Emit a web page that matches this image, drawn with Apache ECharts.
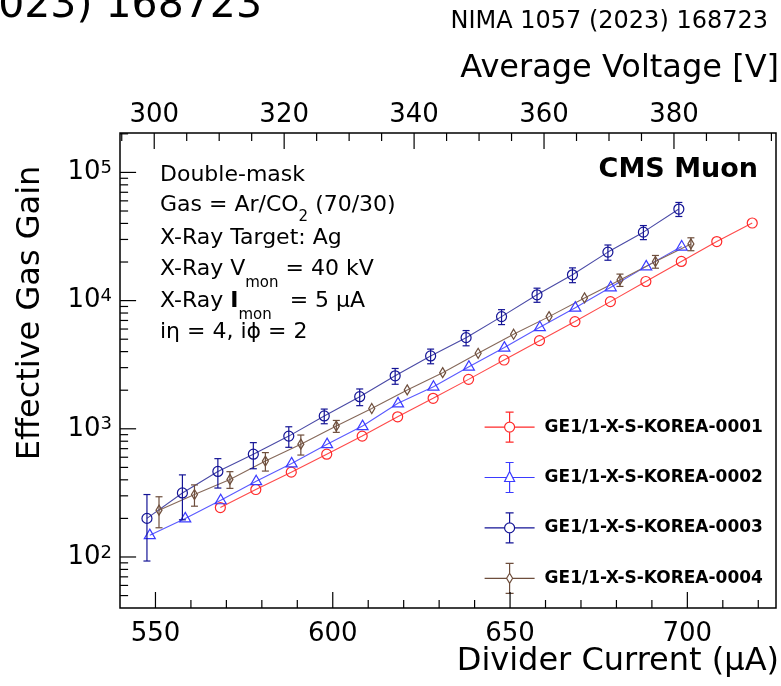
<!DOCTYPE html>
<html>
<head>
<meta charset="utf-8">
<title>Effective gas gain vs divider current</title>
<script src="https://cdn.jsdelivr.net/npm/echarts@6/dist/echarts.min.js"></script>
<style>
  html, body { margin: 0; padding: 0; background: #fff; }
  #chart { width: 781px; height: 686px; }
</style>
</head>
<body>
<div id="chart"></div>
<script>
// chamber names (legend)
const names = ["GE1/1-X-S-KOREA-0001", "GE1/1-X-S-KOREA-0002", "GE1/1-X-S-KOREA-0003", "GE1/1-X-S-KOREA-0004"];

// divider current (uA) per chamber
const current1 = [568.3, 578.3, 588.3, 598.3, 608.3, 618.3, 628.3, 638.3, 648.3, 658.3, 668.3, 678.3, 688.3, 698.3, 708.3, 718.3];
const current2 = [548.4, 558.4, 568.4, 578.4, 588.4, 598.4, 608.4, 618.4, 628.4, 638.4, 648.4, 658.4, 668.4, 678.4, 688.4, 698.4];
const current3 = [547.6, 557.6, 567.6, 577.6, 587.6, 597.6, 607.6, 617.6, 627.6, 637.6, 647.6, 657.6, 667.6, 677.6, 687.6, 697.6];
const current4 = [551, 561, 571, 581, 591, 601, 611, 621, 631, 641, 651, 661, 671, 681, 691, 701];

// effective gas gain
const gain1 = [243, 336, 459, 634, 877, 1240, 1730, 2430, 3440, 4870, 6860, 9820, 14100, 20200, 28900, 40300];
const gain2 = [148, 200, 277, 390, 537, 759, 1050, 1580, 2130, 3050, 4300, 6200, 8810, 12700, 18500, 26400];
const gain3 = [200, 316, 465, 634, 877, 1260, 1780, 2590, 3700, 5140, 7500, 11100, 15900, 23900, 34200, 51800];
const gain4 = [232, 307, 403, 560, 759, 1050, 1440, 2010, 2740, 3880, 5470, 7500, 10500, 14500, 20200, 27700];

// gain uncertainties
const err1 = [9, 12, 16, 22, 30, 42, 60, 85, 120, 170, 240, 340, 490, 700, 1000, 1400];
const err2 = [6, 8, 11, 15, 20, 28, 40, 58, 80, 110, 160, 230, 320, 460, 670, 950];
const err3 = [107, 121, 120, 146, 160, 165, 265, 365, 485, 700, 1000, 1400, 2100, 3250, 4300, 6500];
const err4 = [63, 58, 60, 92, 135, 112, 130, 180, 230, 330, 500, 670, 940, 1600, 2300, 3200];

// axis ticks
const currentMajor = [550, 600, 650, 700];
const currentMinor = [560, 570, 580, 590, 610, 620, 630, 640, 660, 670, 680, 690, 710, 720];
const voltMajor = [300, 320, 340, 360, 380];
const voltMinor = [295, 305, 310, 315, 325, 330, 335, 345, 350, 355, 365, 370, 375, 385, 390, 395];
const gainMajor = [100, 1000, 10000, 100000];
const gainMinor = [50, 60, 70, 80, 90, 200, 300, 400, 500, 600, 700, 800, 900,
  2000, 3000, 4000, 5000, 6000, 7000, 8000, 9000,
  20000, 30000, 40000, 50000, 60000, 70000, 80000, 90000, 200000];

const currentRange = [540, 725];
const voltPerCurrent = 0.5458; // top axis = divider current x this factor
const gainRange = [40, 203000];

const colors = ["#ff2a2a", "#3b3bff", "#141496", "#6e4e3c"];
const lineColors = ["#ff4a4a", "#5a5aff", "#4a4aa6", "#86695a"];
const markers = ["circle", "triangle", "circle", "diamond"];
const FONT = "'DejaVu Sans', sans-serif";

function markerShape(kind, c, color) {
  const style = { fill: "none", stroke: color, lineWidth: 1.2 };
  if (kind === "circle") {
    return { type: "circle", shape: { cx: c[0], cy: c[1], r: 5 }, style };
  }
  if (kind === "triangle") {
    return { type: "polygon", shape: { points: [[c[0], c[1] - 6], [c[0] + 5.5, c[1] + 3.5], [c[0] - 5.5, c[1] + 3.5]] }, style };
  }
  return { type: "polygon", shape: { points: [[c[0], c[1] - 5], [c[0] + 3, c[1]], [c[0], c[1] + 5], [c[0] - 3, c[1]]] }, style };
}

function lineSeries(i, xs, ys) {
  return {
    type: "line",
    name: names[i] + " line",
    data: xs.map((x, k) => [x, ys[k]]),
    showSymbol: false,
    symbol: "none",
    silent: true,
    z: 2,
    lineStyle: { color: lineColors[i], width: 1.1 }
  };
}

function pointSeries(i, xs, ys, es) {
  const color = colors[i];
  return {
    type: "custom",
    name: names[i],
    z: 3,
    clip: true,
    data: xs.map((x, k) => [x, ys[k], es[k]]),
    encode: { x: 0, y: 1 },
    renderItem: function (params, api) {
      const x = api.value(0), y = api.value(1), e = api.value(2);
      const c = api.coord([x, y]);
      const hi = api.coord([x, y + e]);
      const lo = api.coord([x, Math.max(y - e, 1)]);
      const st = { stroke: color, lineWidth: 1.2 };
      const children = [];
      if (c[1] - hi[1] > 5.5) {
        children.push({ type: "line", shape: { x1: c[0], y1: hi[1], x2: c[0], y2: lo[1] }, style: st });
        children.push({ type: "line", shape: { x1: c[0] - 3.5, y1: hi[1], x2: c[0] + 3.5, y2: hi[1] }, style: st });
        children.push({ type: "line", shape: { x1: c[0] - 3.5, y1: lo[1], x2: c[0] + 3.5, y2: lo[1] }, style: st });
      }
      children.push(markerShape(markers[i], c, color));
      return { type: "group", children };
    }
  };
}

// all frame ticks in one custom series on the top (voltage) / gain axis pair.
// item = [voltage-axis value, gain value, side (0 top, 1 bottom, 2 left), length]
const SIDE_TOP = 0, SIDE_BOTTOM = 1, SIDE_LEFT = 2;
const tickItems = [].concat(
  voltMajor.map(v => [v, 1000, SIDE_TOP, 16]),
  voltMinor.map(v => [v, 1000, SIDE_TOP, 8]),
  currentMajor.map(v => [v * voltPerCurrent, 1000, SIDE_BOTTOM, 16]),
  currentMinor.map(v => [v * voltPerCurrent, 1000, SIDE_BOTTOM, 8]),
  gainMajor.map(v => [340, v, SIDE_LEFT, 16]),
  gainMinor.map(v => [340, v, SIDE_LEFT, 8])
);

const tickSeries = {
  type: "custom",
  silent: true,
  clip: false,
  zlevel: 1,
  z: 10,
  xAxisIndex: 1,
  yAxisIndex: 0,
  data: tickItems,
  encode: { x: 0, y: 1 },
  renderItem: function (params, api) {
    const xv = api.value(0), yv = api.value(1), side = api.value(2), len = api.value(3);
    const cs = params.coordSys || {};
    const p = api.coord([xv, yv]);
    const st = { stroke: "#000", lineWidth: 1.2 };
    if (side === SIDE_TOP) {
      let topY = api.coord([xv, gainRange[1]])[1];
      if (!isFinite(topY)) topY = cs.y;
      return { type: "line", shape: { x1: p[0], y1: topY, x2: p[0], y2: topY + len }, style: st };
    }
    if (side === SIDE_BOTTOM) {
      let bottomY = api.coord([xv, gainRange[0] * 1.0005])[1];
      if (!isFinite(bottomY)) bottomY = cs.y + cs.height;
      return { type: "line", shape: { x1: p[0], y1: bottomY - len, x2: p[0], y2: bottomY }, style: st };
    }
    let leftX = api.coord([currentRange[0] * voltPerCurrent * 1.00005, yv])[0];
    if (!isFinite(leftX)) leftX = cs.x;
    return { type: "line", shape: { x1: leftX, y1: p[1], x2: leftX + len, y2: p[1] }, style: st };
  }
};

const legendIcons = [
  "path://M0,15H20M30,15H50M25,0V10M25,20V30M21,0H29M21,30H29M30,15A5,5,0,1,1,20,15A5,5,0,1,1,30,15",
  "path://M0,15H22M28,15H50M25,0V9M25,19V30M21,0H29M21,30H29M25,9L30,19L20,19Z",
  "path://M0,15H20M30,15H50M25,0V10M25,20V30M21,0H29M21,30H29M30,15A5,5,0,1,1,20,15A5,5,0,1,1,30,15",
  "path://M0,15H22M28,15H50M25,0V10M25,20V30M21,0H29M21,30H29M25,10L28,15L25,20L22,15Z"
];

const supLabel = v => "{b|10}{s|" + Math.round(Math.log10(v)) + "}";

function textLine(x, y, text, rich) {
  return {
    type: "text", x, y,
    style: {
      text, fill: "#000", font: "22px " + FONT, verticalAlign: "top", align: "left",
      rich: Object.assign({
        n: { fontSize: 22, fontFamily: FONT, lineHeight: 22, verticalAlign: "top" },
        sub: { fontSize: 15, fontFamily: FONT, lineHeight: 33, verticalAlign: "bottom" }
      }, rich || {})
    }
  };
}

const chart = echarts.init(document.getElementById("chart"), null, { renderer: "canvas" });

chart.setOption({
  animation: false,
  backgroundColor: "#fff",
  textStyle: { fontFamily: FONT },
  grid: {
    left: 120, right: 5, top: 133, bottom: 78, outerBoundsMode: "none", containLabel: false,
    show: true, borderColor: "#000", borderWidth: 1.5, backgroundColor: "transparent"
  },
  xAxis: [
    {
      type: "value", position: "bottom",
      min: currentRange[0], max: currentRange[1],
      axisLine: { show: false }, splitLine: { show: false }, axisTick: { show: false },
      axisLabel: { show: true, customValues: currentMajor, fontSize: 26, color: "#000", fontFamily: FONT, margin: 13 }
    },
    {
      type: "value", position: "top",
      min: currentRange[0] * voltPerCurrent, max: currentRange[1] * voltPerCurrent,
      axisLine: { show: false }, splitLine: { show: false }, axisTick: { show: false },
      axisLabel: { show: true, customValues: voltMajor, fontSize: 26, color: "#000", fontFamily: FONT, margin: 5 }
    }
  ],
  yAxis: {
    type: "log", logBase: 10, min: gainRange[0], max: gainRange[1],
    axisLine: { show: false }, splitLine: { show: false }, axisTick: { show: false },
    axisLabel: {
      customValues: gainMajor, margin: 8, color: "#000", formatter: supLabel,
      rich: {
        b: { fontSize: 26, fontFamily: FONT, color: "#000", lineHeight: 26, padding: [3, 0, 0, 0], verticalAlign: "bottom" },
        s: { fontSize: 18, fontFamily: FONT, color: "#000", lineHeight: 18, verticalAlign: "top" }
      }
    }
  },
  legend: {
    orient: "vertical", left: 479, top: 406.5,
    itemWidth: 50, itemHeight: 30, itemGap: 19.2,
    selectedMode: false,
    textStyle: { fontFamily: FONT, fontWeight: "bold", fontSize: 17, color: "#000", padding: [0, 0, 0, 5] },
    data: names.map((n, i) => ({
      name: n, icon: legendIcons[i],
      itemStyle: { color: "rgba(0,0,0,0)", borderColor: colors[i], borderWidth: 1.2 }
    }))
  },
  graphic: [
    { type: "text", x: 262, y: 27, style: { text: "NIMA 1057 (2023) 168723", align: "right", verticalAlign: "bottom", font: "41px " + FONT, fill: "#000" } },
    { type: "text", x: 768, y: 22, style: { text: "NIMA 1057 (2023) 168723", align: "right", verticalAlign: "middle", font: "24px " + FONT, fill: "#000" } },
    { type: "text", x: 779, y: 69, style: { text: "Average Voltage [V]", align: "right", verticalAlign: "middle", font: "32px " + FONT, fill: "#000" } },
    { type: "text", x: 779, y: 662, style: { text: "Divider Current (µA)", align: "right", verticalAlign: "middle", font: "32px " + FONT, fill: "#000" } },
    { type: "text", x: 31, y: 313, rotation: Math.PI / 2, style: { text: "Effective Gas Gain", align: "center", verticalAlign: "middle", font: "32px " + FONT, fill: "#000" } },
    { type: "text", x: 758, y: 170, style: { text: "CMS Muon", align: "right", verticalAlign: "middle", font: "bold 27px " + FONT, fill: "#000" } },
    textLine(160, 164, "{n|Double-mask}"),
    textLine(160, 194, "{n|Gas = Ar/CO}{sub2|2}{n| (70/30)}", {
      sub2: { fontSize: 15, fontFamily: FONT, lineHeight: 31, verticalAlign: "bottom" }
    }),
    textLine(160, 227, "{n|X-Ray Target: Ag}"),
    textLine(160, 258, "{n|X-Ray V}{sub|mon}{n| = 40 kV}"),
    textLine(160, 290, "{n|X-Ray }{nb|I}{subw|mon}{n|= 5 µA}", {
      nb: { fontSize: 22, fontFamily: FONT, fontWeight: "bold", lineHeight: 22, verticalAlign: "top" },
      subw: { fontSize: 15, fontFamily: FONT, lineHeight: 33, padding: [0, 18, 0, 0], verticalAlign: "bottom" }
    }),
    textLine(160, 321, "{n|iη = 4, iϕ = 2}")
  ],
  series: [
    lineSeries(0, current1, gain1),
    lineSeries(1, current2, gain2),
    lineSeries(2, current3, gain3),
    lineSeries(3, current4, gain4),
    pointSeries(0, current1, gain1, err1),
    pointSeries(1, current2, gain2, err2),
    pointSeries(2, current3, gain3, err3),
    pointSeries(3, current4, gain4, err4),
    tickSeries
  ]
});
</script>
</body>
</html>
